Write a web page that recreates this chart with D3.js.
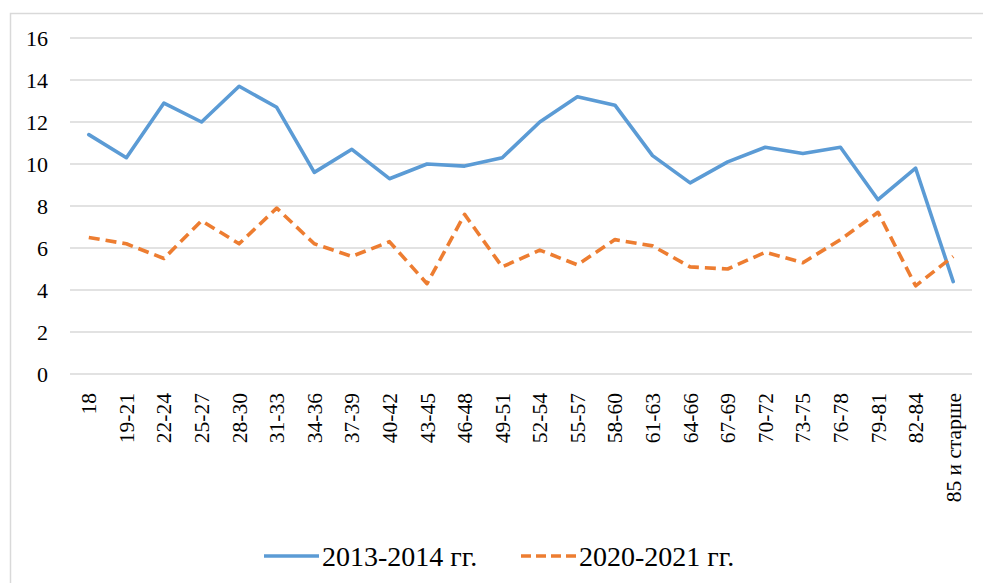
<!DOCTYPE html>
<html>
<head>
<meta charset="utf-8">
<script src="https://cdn.jsdelivr.net/npm/d3@7"></script>
<style>
  body { margin: 0; background: #fff; }
  text { font-family: "Liberation Serif", "Times New Roman", serif; fill: #000; }
</style>
</head>
<body>
<div id="chart"></div>
<script>
// Age groups
var ages = ["18", "19-21", "22-24", "25-27", "28-30", "31-33", "34-36", "37-39", "40-42",
    "43-45", "46-48", "49-51", "52-54", "55-57", "58-60", "61-63", "64-66", "67-69",
    "70-72", "73-75", "76-78", "79-81", "82-84", "85 и старше"];

// 2013-2014
var values1314 = [11.4, 10.3, 12.9, 12.0, 13.7, 12.7, 9.6, 10.7, 9.3, 10.0, 9.9, 10.3,
    12.0, 13.2, 12.8, 10.4, 9.1, 10.1, 10.8, 10.5, 10.8, 8.3, 9.8, 4.4];

// 2020-2021
var values2021 = [6.5, 6.2, 5.5, 7.3, 6.2, 7.9, 6.2, 5.6, 6.3, 4.3, 7.6, 5.1,
    5.9, 5.2, 6.4, 6.1, 5.1, 5.0, 5.8, 5.3, 6.4, 7.7, 4.2, 5.6];

var yTicks = [0, 2, 4, 6, 8, 10, 12, 14, 16];

var seriesNames = ["2013-2014 гг.", "2020-2021 гг."];

var width = 983,
    height = 583,
    plotLeft = 70, plotRight = 972, plotTop = 38, plotBottom = 374;

var svg = d3.select("#chart").append("svg")
    .attr("width", width)
    .attr("height", height);

// frame (only top and left edges show)
svg.append("path")
    .attr("d", "M10.5,583 V13.5 H983")
    .attr("fill", "none")
    .attr("stroke", "#d9d9d9")
    .attr("stroke-width", 1.5);

var x = d3.scalePoint()
    .domain(ages)
    .range([plotLeft, plotRight])
    .padding(0.5);

var y = d3.scaleLinear()
    .domain([0, 16])
    .range([plotBottom, plotTop]);

// grid
svg.append("g").selectAll("line")
    .data(yTicks)
    .enter().append("line")
    .attr("x1", plotLeft)
    .attr("x2", plotRight)
    .attr("y1", function(d) { return y(d); })
    .attr("y2", function(d) { return y(d); })
    .attr("stroke", "#d9d9d9")
    .attr("stroke-width", 1.3);

// y labels
svg.append("g").selectAll("text")
    .data(yTicks)
    .enter().append("text")
    .attr("x", 48)
    .attr("y", function(d) { return y(d); })
    .attr("dy", "0.35em")
    .attr("text-anchor", "end")
    .style("font-size", "22px")
    .text(function(d) { return d; });

// x labels
svg.append("g").selectAll("text")
    .data(ages)
    .enter().append("text")
    .attr("transform", function(d) { return "translate(" + x(d) + ",393) rotate(-90)"; })
    .attr("dy", "0.35em")
    .attr("text-anchor", "end")
    .style("font-size", "21.5px")
    .text(function(d) { return d; });

var line = d3.line()
    .x(function(d, i) { return x(ages[i]); })
    .y(function(d) { return y(d); });

svg.append("path")
    .datum(values1314)
    .attr("d", line)
    .attr("fill", "none")
    .attr("stroke", "#5b9bd5")
    .attr("stroke-width", 3.6)
    .attr("stroke-linejoin", "round")
    .attr("stroke-linecap", "round");

svg.append("path")
    .datum(values2021)
    .attr("d", line)
    .attr("fill", "none")
    .attr("stroke", "#ed7d31")
    .attr("stroke-width", 3.6)
    .attr("stroke-linejoin", "round")
    .attr("stroke-dasharray", "11,6");

// legend
var legend = [
    { name: seriesNames[0], color: "#5b9bd5", dash: null, x: 264 },
    { name: seriesNames[1], color: "#ed7d31", dash: "10,5", x: 521 }
];

var lg = svg.append("g").selectAll("g")
    .data(legend)
    .enter().append("g")
    .attr("transform", function(d) { return "translate(" + d.x + ",556)"; });

lg.append("line")
    .attr("x1", 0)
    .attr("x2", 55)
    .attr("stroke", function(d) { return d.color; })
    .attr("stroke-width", 3.6)
    .attr("stroke-dasharray", function(d) { return d.dash; });

lg.append("text")
    .attr("x", 58)
    .attr("y", 10)
    .style("font-size", "28px")
    .text(function(d) { return d.name; });
</script>
</body>
</html>
